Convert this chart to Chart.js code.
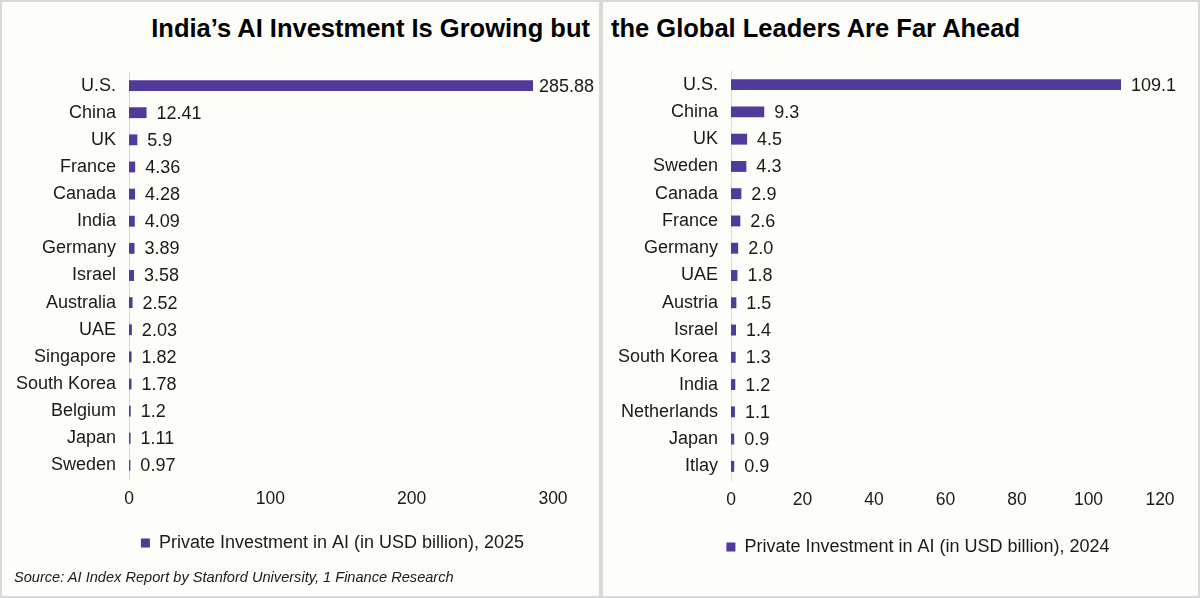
<!DOCTYPE html>
<html>
<head>
<meta charset="utf-8">
<script src="https://cdn.jsdelivr.net/npm/chart.js@4.4.1/dist/chart.umd.min.js"></script>
<style>
  html, body { margin: 0; padding: 0; background: #ffffff; }
  #frame {
    position: relative; width: 1200px; height: 598px; box-sizing: border-box;
    border: 2px solid #d9d9d9; background: #fdfdfa; overflow: hidden;
    font-family: "Liberation Sans", Arial, sans-serif; color: #000;
  }
  #divider { position: absolute; left: 597px; top: 0; width: 4px; height: 594px; background: #d9d9d9; }
  .title { position: absolute; top: 12px; font-weight: bold; font-size: 25.5px; white-space: nowrap; }
  #t1 { right: 608px; }
  #t2 { left: 609px; }
  #source { position: absolute; left: 12px; top: 567px; font-size: 14.6px; font-style: italic; color: #1a1a1a; }
  .box { position: absolute; top: 0; height: 594px; }
  #b1 { left: 0; width: 596px; }
  #b2 { left: 601px; width: 595px; }
</style>
</head>
<body>
<div id="frame">
  <div id="divider"></div>
  <div class="title" id="t1">India’s AI Investment Is Growing but</div>
  <div class="title" id="t2">the Global Leaders Are Far Ahead</div>
  <div class="box" id="b1"><canvas id="chart2025"></canvas></div>
  <div class="box" id="b2"><canvas id="chart2024"></canvas></div>
  <div id="source">Source: AI Index Report by Stanford University, 1 Finance Research</div>
</div>
<script>
const countries2025 = ["U.S.", "China", "UK", "France", "Canada", "India", "Germany", "Israel",
  "Australia", "UAE", "Singapore", "South Korea", "Belgium", "Japan", "Sweden"];
const invest2025 = [285.88, 12.41, 5.9, 4.36, 4.28, 4.09, 3.89, 3.58, 2.52, 2.03, 1.82, 1.78, 1.2, 1.11, 0.97];
const ticks2025 = [0, 100, 200, 300];

const countries2024 = ["U.S.", "China", "UK", "Sweden", "Canada", "France", "Germany", "UAE",
  "Austria", "Israel", "South Korea", "India", "Netherlands", "Japan", "Itlay"];
const invest2024 = [109.1, 9.3, 4.5, 4.3, 2.9, 2.6, 2.0, 1.8, 1.5, 1.4, 1.3, 1.2, 1.1, 0.9, 0.9];
const ticks2024 = [0, 20, 40, 60, 80, 100, 120];

const BAR = "#52399c";
const FONT = "'Liberation Sans', Arial, sans-serif";
const TEXT = "#1a1a1a";

// value labels next to each bar (pulled back in if they would run off the panel)
const valueLabels = {
  id: "valueLabels",
  afterDatasetsDraw(chart, args, opts) {
    const ctx = chart.ctx;
    const meta = chart.getDatasetMeta(0);
    ctx.save();
    ctx.font = "18px " + FONT;
    ctx.fillStyle = TEXT;
    ctx.textAlign = "left";
    ctx.textBaseline = "middle";
    meta.data.forEach((bar, i) => {
      const txt = opts.fmt(chart.data.datasets[0].data[i]);
      const w = ctx.measureText(txt).width;
      const x = Math.min(bar.x + opts.gap, chart.width - 4 - w);
      ctx.fillText(txt, x, bar.y + 1);
    });
    ctx.restore();
  }
};

// y labels hang out left of the narrow axis box, so widen its clip area
const unclipY = {
  id: "unclipY",
  afterLayout(chart) { chart.scales.y.left = 0; }
};

function makeChart(id, labels, values, tickVals, cfg) {
  const ctx = document.getElementById(id).getContext("2d");
  return new Chart(ctx, {
    type: "bar",
    data: {
      labels: labels,
      datasets: [{
        label: cfg.legend,
        data: values,
        backgroundColor: BAR,
        borderWidth: 0,
        barPercentage: 0.4,
        categoryPercentage: 1.0
      }]
    },
    options: {
      indexAxis: "y",
      animation: false,
      responsive: true,
      maintainAspectRatio: false,
      layout: { padding: cfg.pad },
      scales: {
        x: {
          min: 0, max: tickVals[tickVals.length - 1],
          afterBuildTicks: (s) => { s.ticks = tickVals.map(v => ({ value: v })); },
          afterFit: (s) => { s.height = cfg.xHeight; },
          grid: { display: false, drawTicks: false },
          border: { display: false },
          ticks: { color: TEXT, font: { family: FONT, size: 17.5 }, padding: 10, maxRotation: 0 }
        },
        y: {
          afterFit: (s) => { s.width = cfg.yWidth; },
          grid: { display: false, drawTicks: false },
          border: { display: true, color: "#d9d9d9", width: 1 },
          ticks: { color: TEXT, font: { family: FONT, size: 18 }, padding: 13, autoSkip: false }
        }
      },
      plugins: {
        legend: {
          position: "bottom",
          labels: {
            color: TEXT, font: { family: FONT, size: 18 },
            boxWidth: 9, boxHeight: 9, padding: 10
          }
        },
        tooltip: { enabled: false },
        valueLabels: { fmt: cfg.fmt, gap: cfg.gap }
      }
    },
    plugins: [valueLabels, unclipY]
  });
}

makeChart("chart2025", countries2025, invest2025, ticks2025, {
  legend: "Private Investment in AI (in USD billion), 2025",
  pad: { left: 110, right: 45, top: 70, bottom: 34 },
  yWidth: 17, xHeight: 45, gap: 10,
  fmt: v => String(v)
});

makeChart("chart2024", countries2024, invest2024, ticks2024, {
  legend: "Private Investment in AI (in USD billion), 2024",
  pad: { left: 73, right: 38, top: 69, bottom: 30 },
  yWidth: 55, xHeight: 48, gap: 10,
  fmt: v => v.toFixed(1)
});
</script>
</body>
</html>
